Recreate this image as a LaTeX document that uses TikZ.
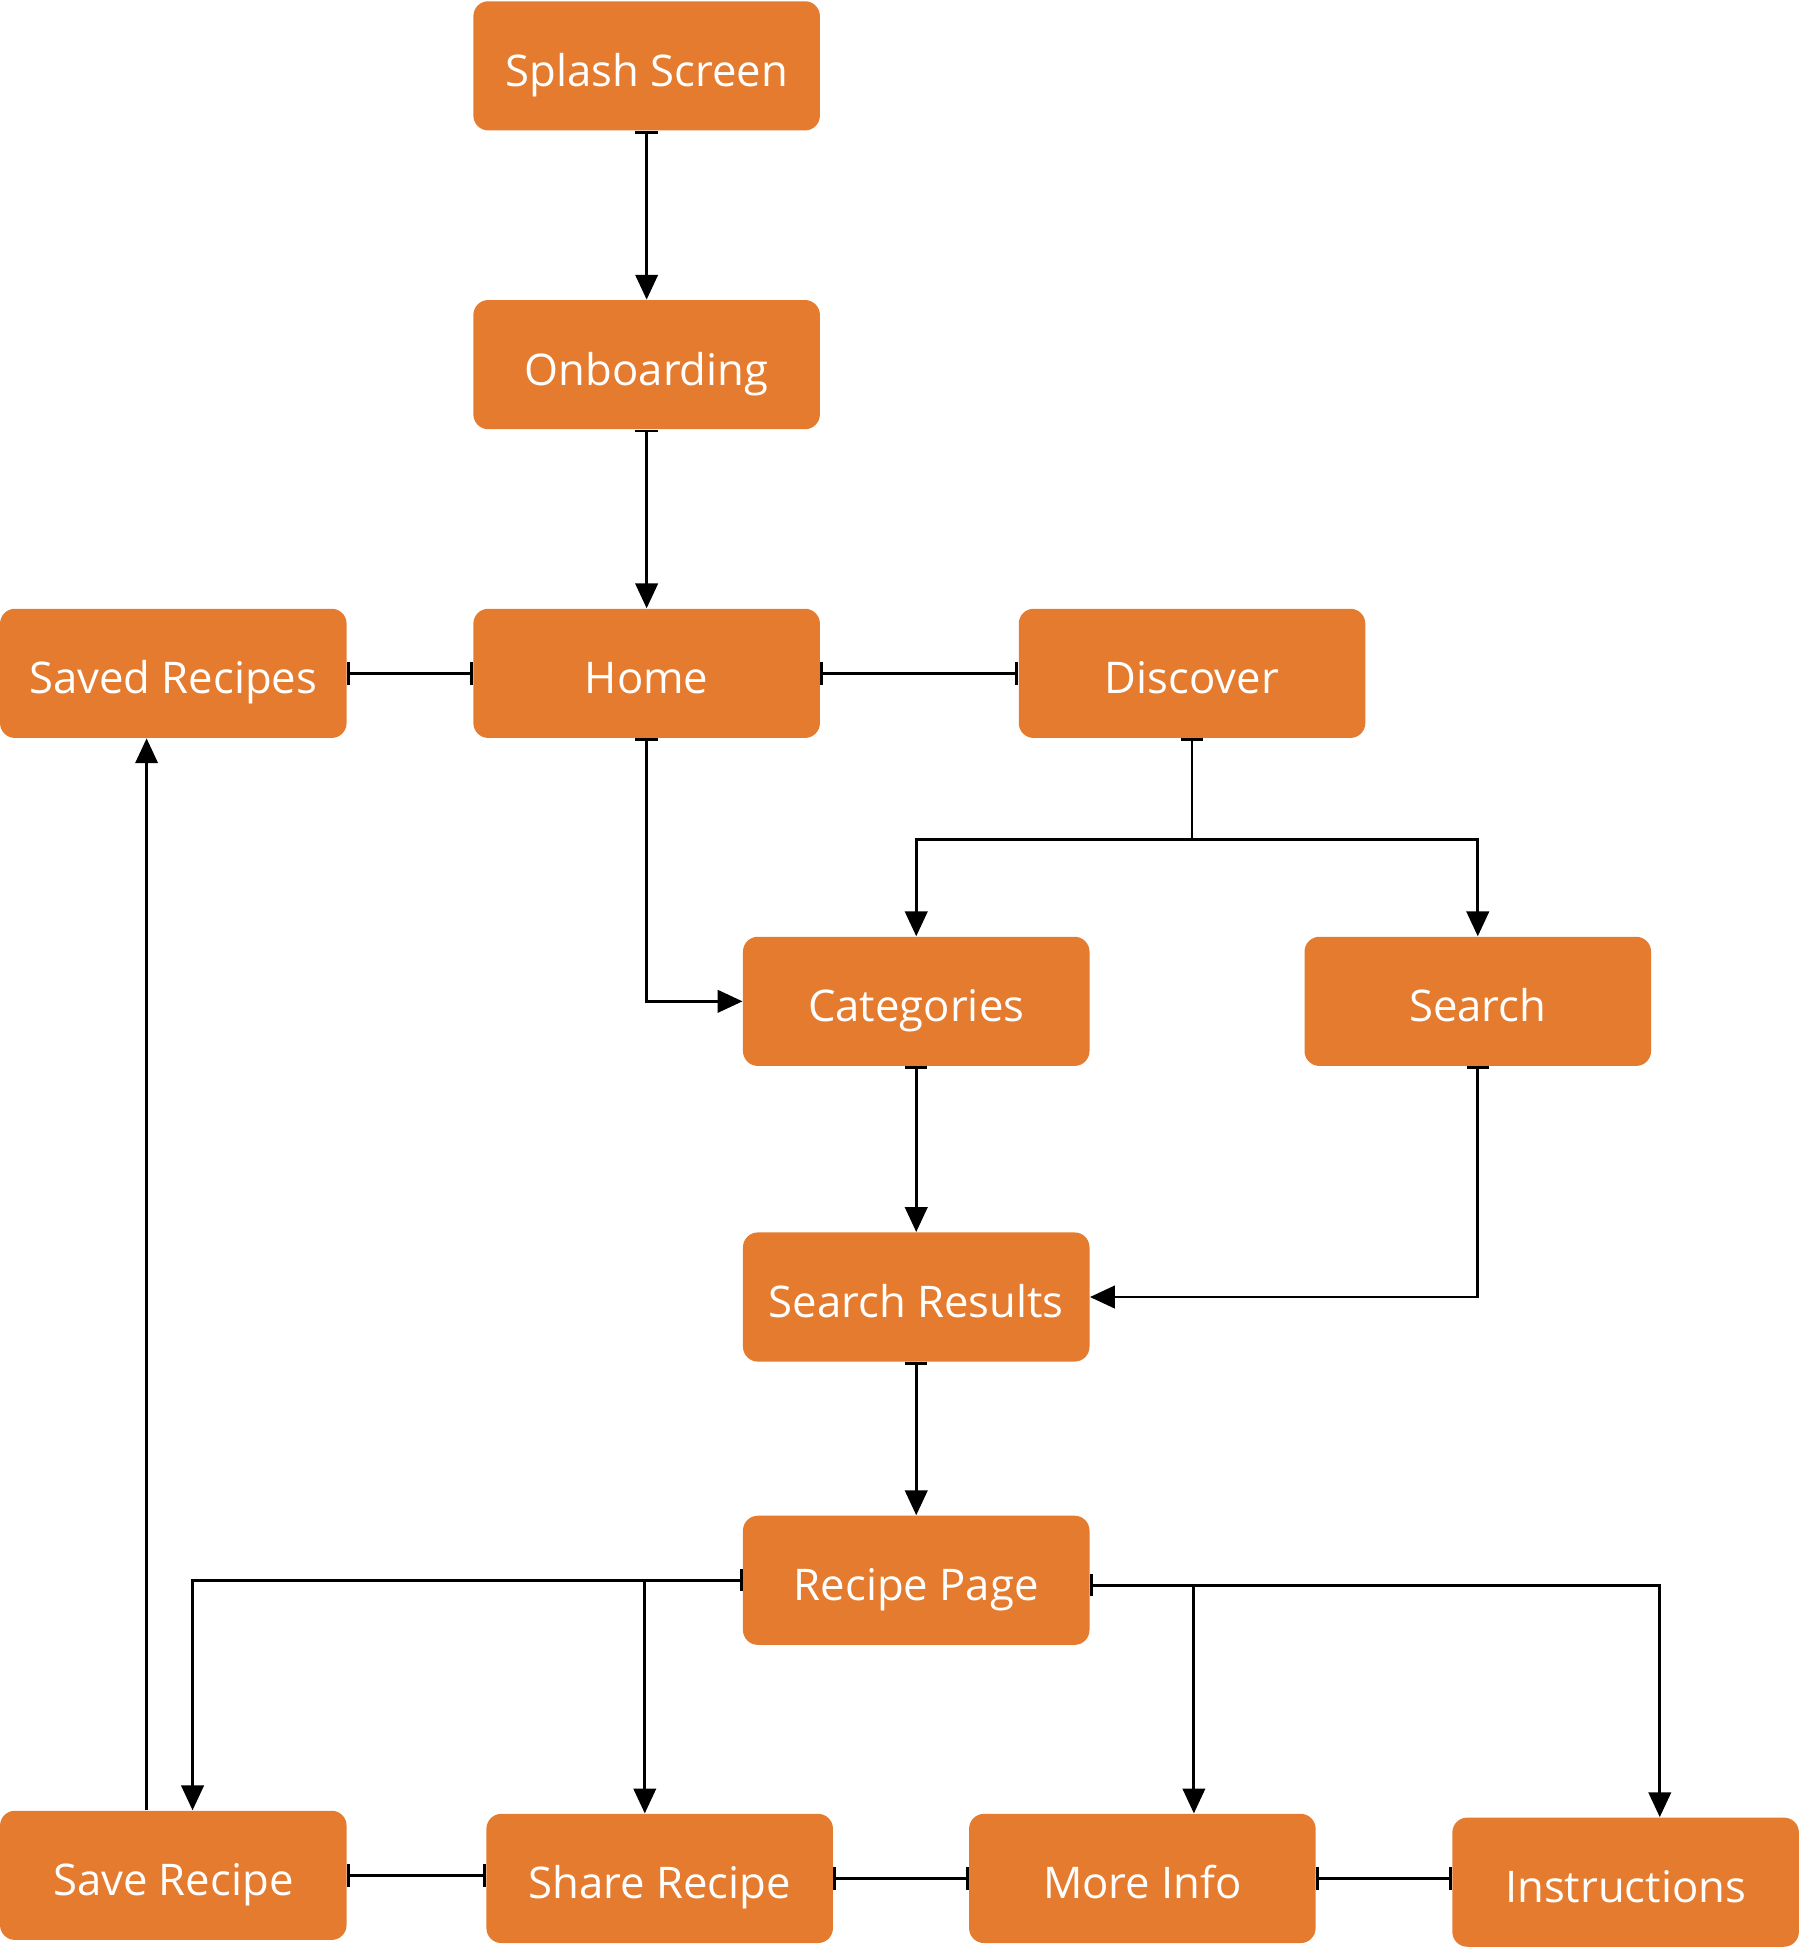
\documentclass[tikz,border=0pt]{standalone}
\usepackage{fontspec}
\setmainfont{Open Sans}
\usetikzlibrary{arrows.meta, positioning}
\definecolor{recipeorange}{RGB}{228,123,46}

\begin{document}
\begin{tikzpicture}[
    x=0.02cm, y=-0.02cm,
    box/.style={fill=recipeorange, rounded corners=0.24cm, inner sep=0pt,
                minimum width=5.58cm, minimum height=2.08cm, align=center,
                text height=0.76cm, text depth=0.1cm,
                text=white, font=\fontsize{20}{24}\selectfont},
    arr/.style={-{Triangle[length=4mm,width=3.6mm]}, line width=1.3pt},
    barr/.style={{Bar[width=3.6mm]}-{Triangle[length=4mm,width=3.6mm]}, line width=1.3pt},
    bb/.style={{Bar[width=3.6mm]}-{Bar[width=3.6mm]}, line width=1.3pt}
  ]
    \useasboundingbox (0,0) rectangle (1449,1568);

    \node[box] (splash)   at (520.5,53)    {Splash Screen};
    \node[box] (onboard)  at (520.5,293.5) {Onboarding};
    \node[box] (saved)    at (139.5,542)   {Saved Recipes};
    \node[box] (home)     at (520.5,542)   {Home};
    \node[box] (discover) at (959.5,542)   {Discover};
    \node[box] (categ)    at (737.5,806)   {Categories};
    \node[box] (search)   at (1189.5,806)  {Search};
    \node[box] (results)  at (737.5,1044)  {Search Results};
    \node[box] (recipe)   at (737.5,1272)  {Recipe Page};
    \node[box] (save)     at (139.5,1509.5) {Save Recipe};
    \node[box] (share)    at (531,1512)    {Share Recipe};
    \node[box] (info)     at (919.5,1512)  {More Info};
    \node[box] (instr)    at (1308.5,1515) {Instructions};

    \draw[barr] (splash.south) -- (onboard.north);
    \draw[barr] (onboard.south) -- (home.north);
    \draw[bb] (saved) -- (home);
    \draw[bb] (home) -- (discover);

    % discover splits to categories and search
    \coordinate (split) at (959.5,676);
    \draw[barr] (discover.south) -- (split) -| (categ.north);
    \draw[arr] (split) -| (search.north);

    \draw[barr] (home.south) |- (categ.west);
    \draw[barr] (categ.south) -- (results.north);
    \draw[barr] (search.south) |- (results.east);
    \draw[barr] (results.south) -- (recipe.north);

    % recipe page to the bottom row
    \coordinate (recipeR) at ([yshift=-0.08cm]recipe.east);
    \coordinate (saveIn)  at ([xshift=0.31cm]save.north);
    \coordinate (shareIn) at ([xshift=-0.24cm]share.north);
    \coordinate (infoIn)  at ([xshift=0.83cm]info.north);
    \coordinate (instrIn) at ([xshift=0.55cm]instr.north);
    \coordinate (saveOut) at ([xshift=-0.43cm]save.north);

    \draw[barr] (recipe.west) -| (saveIn);
    \draw[arr] (shareIn |- recipe.west) -- (shareIn);
    \draw[barr] (recipeR) -| (instrIn);
    \draw[arr] (infoIn |- recipeR) -- (infoIn);
    \draw[arr] (saveOut) -- (saveOut |- saved.south);

    \draw[bb] (save.east) -- (save.east -| share.west);
    \draw[bb] (share.east) -- (share.east -| info.west);
    \draw[bb] (info.east) -- (info.east -| instr.west);
  \end{tikzpicture}
\end{document}
